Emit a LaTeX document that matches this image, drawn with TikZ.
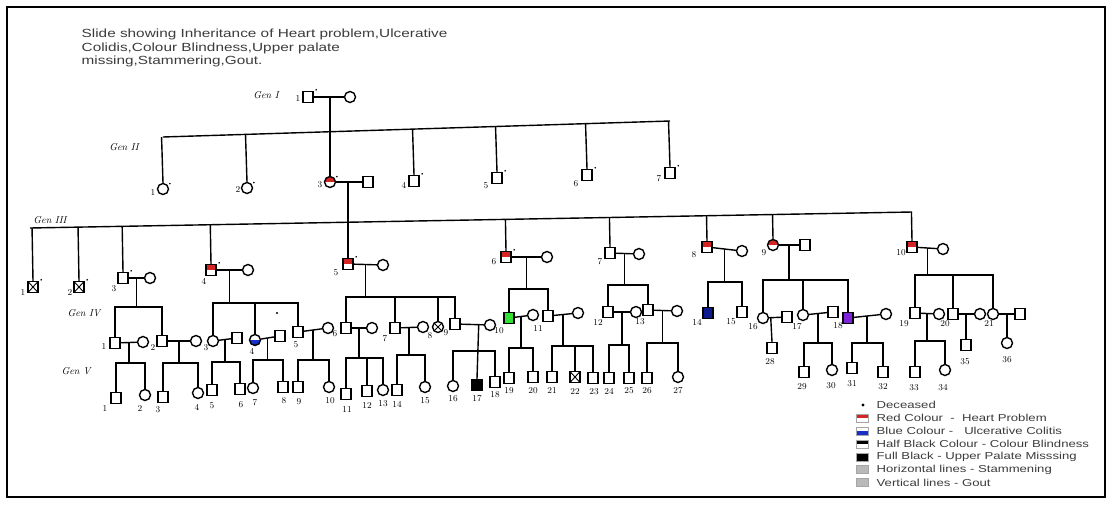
\documentclass[tikz,border=0pt]{standalone}
\usepackage{fontspec}
\newfontfamily\slidefont[FakeStretch=1.3]{Liberation Sans}
\usetikzlibrary{calc}
\definecolor{hrtR}{HTML}{D42424}
\definecolor{ucB}{HTML}{1630C8}
\definecolor{ucN}{HTML}{0C1A8E}
\definecolor{grnG}{HTML}{33E033}
\definecolor{prpP}{HTML}{8022DC}
\definecolor{txtG}{HTML}{3C3C3C}

\begin{document}
\begin{tikzpicture}[x=1pt,y=-1pt,line width=1.4pt,
  every node/.style={inner sep=0pt},
  male/.style={draw,rectangle,minimum width=10pt,minimum height=11pt,fill=white},
  fem/.style={draw,circle,minimum size=11pt,fill=white},
  redtop/.style={path picture={\fill[hrtR] (path picture bounding box.north west) rectangle (path picture bounding box.east);}},
  blubot/.style={path picture={\fill[ucB] (path picture bounding box.west) rectangle (path picture bounding box.south east);}},
  blktop/.style={path picture={\fill[black] (path picture bounding box.north west) rectangle (path picture bounding box.east);}},
  xcross/.style={path picture={\draw[line width=0.9pt] (path picture bounding box.north west) -- (path picture bounding box.south east) (path picture bounding box.north east) -- (path picture bounding box.south west);}},
  num/.style={font=\fontsize{9}{10}\selectfont},
  gen/.style={font=\fontsize{10}{11}\selectfont\itshape},
  sw/.style={draw=gray!70,line width=0.6pt,minimum width=12pt,minimum height=8pt,fill=white},
  ]
  \useasboundingbox (0,0) rectangle (1112,504);
  \fill[white] (0,0) rectangle (1112,504);
  \draw[line width=2.6pt] (7,7) rectangle (1105,497);

  \node[anchor=north west,align=left,text=txtG,font=\slidefont\fontsize{11.8}{13.6}\selectfont] (ttl) at (81,28.5)
    {Slide showing Inheritance of Heart problem,Ulcerative\\Colidis,Colour Blindness,Upper palate\\missing,Stammering,Gout.};

  % generation labels
  \node[gen] (gI) at (266,95) {Gen I};
  \node[gen] (gII) at (124,147) {Gen II};
  \node[gen] (gIII) at (50,220) {Gen III};
  \node[gen] (gIV) at (84,313) {Gen IV};
  \node[gen] (gV) at (76,371) {Gen V};

  % people
  \foreach \n/\x/\y in {I1/308/97, II3s/368/182, II4/414/181, II5/497/178, II6/587/175, II7/670/173,
      III3/123/278, III7/610/253, III9s/805/245,
      IV1/115/343, IV2/162/341, IV3s/237/338, IV4s/280/336, IV5/298/332, IV6/346/328, IV7/395/328,
      IV9/455/324, IV11/548/316, IV12/608/312, IV13/648/310, IV15/742/312, IV16s/787/317,
      IV17s/833/312, IV19/915/313, IV20/953/314, IV21s/1020/314,
      V1/116/398, V3/163/397, V5/212/390, V6/240/389, V8/283/387, V9/298/387, V11/346/394,
      V12/367/391, V14/397/390, V18/495/382, V19/509/378, V20/533/377, V21/552/377, V23/593/378,
      V24/609/378, V25/629/378, V26/647/378, V28/772/348, V29/804/372, V31/852/368, V32/883/372,
      V33/915/372, V35/966/345}
    \node[male] (\n) at (\x,\y) {};
  \foreach \n/\x/\y in {I2/350/97, II1/163/189, II2/247/188,
      III3s/150/278, III4s/248/270, III5s/383/265, III6s/547/257, III7s/639/254, III8s/742/251, III10s/943/249,
      IV1s/143/342, IV2s/196/341, IV3/213/341, IV5s/328/328, IV6s/372/328, IV7s/423/327, IV9s/490/325,
      IV10s/533/315, IV11s/578/313, IV12s/636/312, IV13s/677/311, IV16/763/318, IV17/803/315,
      IV18s/886/314, IV19s/939/314, IV20s/980/314, IV21/993/314,
      V2/145/395, V4/198/393, V7/253/388, V10/329/387, V13/383/390, V15/425/387, V16/453/386,
      V27/678/377, V30/832/370, V34/945/370, V36/1007/343}
    \node[fem] (\n) at (\x,\y) {};
  \foreach \n/\x/\y in {III4/211/270, III5/348/264, III6/506/257, III8/707/247, III10/912/247}
    \node[male,redtop] (\n) at (\x,\y) {};
  \foreach \n/\x/\y in {III1/33/287, III2/79/287, V22/575/377}
    \node[male,xcross] (\n) at (\x,\y) {};
  \node[fem,redtop] (II3) at (330,182) {};
  \node[fem,redtop] (III9) at (773,245) {};
  \node[fem,blubot] (IV4) at (255,340) {};
  \node[fem,xcross] (IV8) at (438,327) {};
  \node[male,fill=grnG] (IV10) at (509,318) {};
  \node[male,fill=ucN] (IV14) at (708,313) {};
  \node[male,fill=prpP] (IV18) at (848,318) {};
  \node[male,fill=black] (V17) at (477,385) {};

  % deceased marks
  \foreach \n in {I1,II1,II2,II3,II4,II5,II6,II7,III1,III2,III3,III4,III5,III6}
    \fill ($(\n.north east)+(2.5,-1)$) circle (0.9);
  \fill (277,313) circle (1.2);

  % marriages
  \foreach \a/\b in {I1/I2, II3/II3s, III3/III3s, III4/III4s, III5/III5s, III6/III6s, III7/III7s,
      III8/III8s, III9/III9s, III10/III10s, IV1/IV1s, IV2/IV2s, IV3/IV3s, IV4/IV4s, IV5/IV5s,
      IV6/IV6s, IV7/IV7s, IV9/IV9s, IV10/IV10s, IV11/IV11s, IV12/IV12s, IV13/IV13s, IV16/IV16s,
      IV17/IV17s, IV18/IV18s, IV19/IV19s, IV20/IV20s, IV21/IV21s}
    \draw (\a) -- (\b);

  % gen II and gen III sibships
  \coordinate (g2a) at (163,137);
  \coordinate (g2b) at (670,121);
  \draw (g2a) -- (g2b);
  \foreach \c in {II1,II2,II4,II5,II6,II7}
    \draw (\c.north) -- ($(g2a)!(\c.north)!(g2b)$);
  \draw ($(I1)!(II3)!(I2)$) -- (II3.north);
  \coordinate (g3a) at (30,228);
  \coordinate (g3b) at (912,212);
  \draw (g3a) -- (g3b);
  \foreach \c in {III1,III2,III3,III4,III6,III7,III8,III9,III10}
    \draw (\c.north) -- ($(g3a)!(\c.north)!(g3b)$);
  \draw ($(II3)!(III5)!(II3s)$) -- (III5.north);

  % gen IV and gen V sibships
  \foreach \a/\b/\y/\ca/\cb in {III3/III3s/307/IV1/IV2, III4/III4s/303/IV3/IV5, III5/III5s/297/IV6/IV9,
      III6/III6s/289/IV10/IV11, III7/III7s/285/IV12/IV13, III8/III8s/282/IV14/IV15,
      III9/III9s/280/IV16/IV18, III10/III10s/275/IV19/IV21,
      IV1/IV1s/363/V1/V2, IV2/IV2s/363/V3/V4, IV3/IV3s/362/V5/V6, IV4/IV4s/360/V7/V8,
      IV5/IV5s/360/V9/V10, IV6/IV6s/358/V11/V13, IV7/IV7s/355/V14/V15, IV10/IV10s/348/V19/V20,
      IV11/IV11s/346/V21/V23, IV12/IV12s/345/V24/V25, IV13/IV13s/343/V26/V27,
      IV17/IV17s/343/V29/V30, IV18/IV18s/343/V31/V32, IV19/IV19s/341/V33/V34}{
    \coordinate (mm) at ($(\a)!.5!(\b)$);
    \draw (mm) -- (mm |- 0,\y);
    \draw (\ca.north) |- (mm |- 0,\y) -| (\cb.north);
  }
  \foreach \c/\y in {IV4/303, IV7/297, IV8/297, IV17/280, IV20/275, V12/358, V22/346}
    \draw (\c.north) -- (\c.north |- 0,\y);
  \foreach \a/\b/\c in {IV9/IV9s/V17, IV16/IV16s/V28, IV20/IV20s/V35, IV21/IV21s/V36}
    \draw ($(\a)!(\c)!(\b)$) -- (\c.north);
  \draw (V16.north) |- (V17.north |- 0,351) -| (V18.north);

  % numbers
  \node[num] (tI1) at (298,98) {1};
  \foreach \t/\x/\y in {1/153/192, 2/238/189, 3/320/185, 4/404/185, 5/486/186, 6/576/184, 7/659/179}
    \node[num] (tII\t) at (\x,\y) {\t};
  \foreach \t/\x/\y in {1/23/292, 2/70/292, 3/114/289, 4/204/281, 5/336/273, 6/494/262, 7/600/262,
      8/694/255, 9/764/253, 10/901/253}
    \node[num] (tIII\t) at (\x,\y) {\t};
  \foreach \t/\x/\y in {1/104/346, 2/153/347, 3/206/348, 4/252/351, 5/296/345, 6/335/334, 7/385/339,
      8/430/336, 9/446/333, 10/499/331, 11/538/328, 12/598/322, 13/640/322, 14/697/322, 15/731/322,
      16/753/327, 17/797/327, 18/838/326, 19/904/324, 20/945/324, 21/989/323}
    \node[num] (tIV\t) at (\x,\y) {\t};
  \foreach \t/\x/\y in {1/105/408, 2/140/408, 3/158/410, 4/197/407, 5/212/406, 6/241/405, 7/255/403,
      8/284/401, 9/299/402, 10/330/401, 11/347/409, 12/367/405, 13/383/404, 14/397/404, 15/425/401,
      16/453/399, 17/477/399, 18/495/395, 19/509/391, 20/533/391, 21/552/390, 22/575/391, 23/594/392,
      24/609/391, 25/629/391, 26/647/391, 27/678/391, 28/770/362, 29/802/387, 30/831/386, 31/852/384,
      32/883/387, 33/914/388, 34/943/388, 35/965/362, 36/1007/360}
    \node[num] (tV\t) at (\x,\y) {\t};

  % legend
  \fill (863,405) circle (1.6);
  \node[sw,redtop] (sw1) at (862,418) {};
  \node[sw,blubot] (sw2) at (862,431) {};
  \node[sw,blktop] (sw3) at (862,444) {};
  \node[sw,fill=black] (sw4) at (862,457) {};
  \node[sw,fill=gray!55] (sw5) at (862,469) {};
  \node[sw,fill=gray!55] (sw6) at (862,482) {};
  \foreach \i/\t in {0/Deceased, 1/Red Colour~ - ~Heart Problem, 2/Blue Colour - ~ Ulcerative Colitis,
      3/Half Black Colour - Colour Blindness, 4/Full Black - Upper Palate Misssing,
      5/Horizontal lines - Stammening, 6/Vertical lines - Gout}
    \node[anchor=west,text=txtG,font=\slidefont\fontsize{10.1}{12}\selectfont] (lg\i) at (876,405+12.9*\i) {\t};
\end{tikzpicture}
\end{document}
